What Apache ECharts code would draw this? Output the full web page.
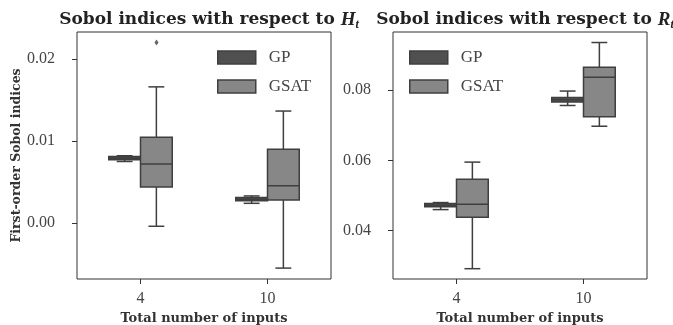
<!DOCTYPE html>
<html>
<head>
<meta charset="utf-8">
<script src="https://cdn.jsdelivr.net/npm/echarts@6/dist/echarts.min.js"></script>
<style>html,body{margin:0;padding:0;background:#fff}#c{width:673px;height:325px}</style>
</head>
<body>
<div id="c"></div>
<script>
// ---- data ----
const categories = ['4', '10'];
const seriesNames = ['GP', 'GSAT'];
// [min, Q1, median, Q3, max] per category
const gpH = [[0.0075, 0.0077, 0.0079, 0.0081, 0.0082], [0.0024, 0.0027, 0.0029, 0.0031, 0.0033]];
const gsatH = [[-0.0004, 0.0044, 0.0072, 0.01045, 0.0166], [-0.0055, 0.0028, 0.00455, 0.0090, 0.01365]];
const gsatHOutliers = [['4', 0.0220]];
const gpR = [[0.0460, 0.0468, 0.0472, 0.0477, 0.0480], [0.0756, 0.0766, 0.0772, 0.0779, 0.0797]];
const gsatR = [[0.0292, 0.0438, 0.0475, 0.0546, 0.0595], [0.0697, 0.0724, 0.0836, 0.0865, 0.0935]];
const yTicksH = [0.00, 0.01, 0.02];
const yTicksR = [0.04, 0.06, 0.08];
const yRangeH = [-0.00683, 0.02329];
const yRangeR = [0.02627, 0.09649];

// ---- style ----
const EDGE = '#3f3f3f';
const COLORS = {GP: '#505050', GSAT: '#878787'};
const SERIF = 'DejaVu Serif';
const NUMFONT = 'Liberation Serif';

function boxRender(sign, fill) {
  return function (params, api) {
    const c = api.value(0);
    const bw = api.size([1, 0])[0];
    const off = sign * bw / 8, hw = bw / 8, cw = bw / 16;
    const p = [1, 2, 3, 4, 5].map(k => api.coord([c, api.value(k)]));
    const x = p[0][0] + off;
    const ls = {stroke: EDGE, lineWidth: 1.5};
    return {
      type: 'group',
      children: [
        {type: 'line', shape: {x1: x, y1: p[3][1], x2: x, y2: p[4][1]}, style: ls},
        {type: 'line', shape: {x1: x, y1: p[1][1], x2: x, y2: p[0][1]}, style: ls},
        {type: 'line', shape: {x1: x - cw, y1: p[4][1], x2: x + cw, y2: p[4][1]}, style: ls},
        {type: 'line', shape: {x1: x - cw, y1: p[0][1], x2: x + cw, y2: p[0][1]}, style: ls},
        {type: 'rect', shape: {x: x - hw, y: p[3][1], width: 2 * hw, height: p[1][1] - p[3][1]},
          style: {fill: fill, stroke: EDGE, lineWidth: 1.5}},
        {type: 'line', shape: {x1: x - hw, y1: p[2][1], x2: x + hw, y2: p[2][1]}, style: ls}
      ]
    };
  };
}

function toData(arr) { return arr.map((d, i) => [i].concat(d)); }

const grids = [
  {left: 77, top: 32, width: 254, height: 247, show: true, borderColor: '#333', borderWidth: 1,
    backgroundColor: 'transparent', containLabel: false, outerBoundsMode: 'none'},
  {left: 393, top: 32, width: 254, height: 247, show: true, borderColor: '#333', borderWidth: 1,
    backgroundColor: 'transparent', containLabel: false, outerBoundsMode: 'none'}
];

function xAxis(gi) {
  return {
    type: 'category', gridIndex: gi, data: categories, position: 'bottom',
    name: 'Total number of inputs', nameLocation: 'middle', nameGap: 27,
    nameTextStyle: {fontFamily: SERIF, fontWeight: 'bold', fontSize: 13, color: '#333'},
    axisLine: {show: false, onZero: false},
    axisTick: {show: true, alignWithLabel: true, length: 5, lineStyle: {color: '#333'}},
    axisLabel: {margin: 12, fontFamily: NUMFONT, fontSize: 16, color: '#444'},
    splitLine: {show: false}
  };
}
function yAxis(gi, range, ticks, name) {
  return {
    type: 'value', gridIndex: gi, min: range[0], max: range[1], position: 'left',
    name: name, nameLocation: 'middle', nameGap: 41,
    nameTextStyle: {fontFamily: SERIF, fontWeight: 'bold', fontSize: 12.5, color: '#333'},
    axisLine: {show: false, onZero: false},
    axisTick: {show: true, length: 5, lineStyle: {color: '#333'}, customValues: ticks},
    axisLabel: {margin: 22, fontFamily: NUMFONT, fontSize: 16, color: '#444', customValues: ticks,
      formatter: v => v.toFixed(2)},
    splitLine: {show: false}
  };
}

function titleOf(centerX, sym) {
  return {
    left: centerX, top: 4, textAlign: 'center',
    text: '{b|Sobol indices with respect to }{i|' + sym + '}{s|t}',
    textStyle: {
      rich: {
        b: {fontFamily: SERIF, fontWeight: 'bold', fontSize: 17, color: '#222', lineHeight: 22},
        i: {fontFamily: NUMFONT, fontStyle: 'italic', fontSize: 19, color: '#222', lineHeight: 22},
        s: {fontFamily: NUMFONT, fontStyle: 'italic', fontSize: 12, color: '#222', lineHeight: 12, verticalAlign: 'bottom'}
      }
    }
  };
}

function legendOf(left) {
  return {
    left: left, top: 49, padding: 0, orient: 'vertical', itemGap: 12,
    itemWidth: 38, itemHeight: 13, icon: 'rect', selectedMode: false,
    textStyle: {fontFamily: NUMFONT, fontSize: 17, color: '#444', padding: [0, 0, 0, 8], lineHeight: 13},
    data: seriesNames.map(n => ({name: n, itemStyle: {color: COLORS[n], borderColor: EDGE, borderWidth: 1.5}}))
  };
}

const option = {
  animation: false,
  backgroundColor: '#fff',
  title: [titleOf(204, 'H'), titleOf(520, 'R')],
  legend: [legendOf(217), legendOf(409)],
  grid: grids,
  xAxis: [xAxis(0), xAxis(1)],
  yAxis: [yAxis(0, yRangeH, yTicksH, 'First-order Sobol indices'), yAxis(1, yRangeR, yTicksR, '')],
  series: [
    {name: 'GP', type: 'custom', xAxisIndex: 0, yAxisIndex: 0, data: toData(gpH),
      encode: {x: 0, y: [1, 2, 3, 4, 5]}, renderItem: boxRender(-1, COLORS.GP),
      itemStyle: {color: COLORS.GP, borderColor: EDGE}},
    {name: 'GSAT', type: 'custom', xAxisIndex: 0, yAxisIndex: 0, data: toData(gsatH),
      encode: {x: 0, y: [1, 2, 3, 4, 5]}, renderItem: boxRender(1, COLORS.GSAT),
      itemStyle: {color: COLORS.GSAT, borderColor: EDGE}},
    {name: 'GSAT', type: 'scatter', xAxisIndex: 0, yAxisIndex: 0, data: gsatHOutliers,
      symbol: 'diamond', symbolSize: [4, 6], symbolOffset: [16, 0], itemStyle: {color: EDGE}},
    {name: 'GP', type: 'custom', xAxisIndex: 1, yAxisIndex: 1, data: toData(gpR),
      encode: {x: 0, y: [1, 2, 3, 4, 5]}, renderItem: boxRender(-1, COLORS.GP),
      itemStyle: {color: COLORS.GP, borderColor: EDGE}},
    {name: 'GSAT', type: 'custom', xAxisIndex: 1, yAxisIndex: 1, data: toData(gsatR),
      encode: {x: 0, y: [1, 2, 3, 4, 5]}, renderItem: boxRender(1, COLORS.GSAT),
      itemStyle: {color: COLORS.GSAT, borderColor: EDGE}}
  ]
};

const chart = echarts.init(document.getElementById('c'), null, {renderer: 'canvas'});
chart.setOption(option);
</script>
</body>
</html>
